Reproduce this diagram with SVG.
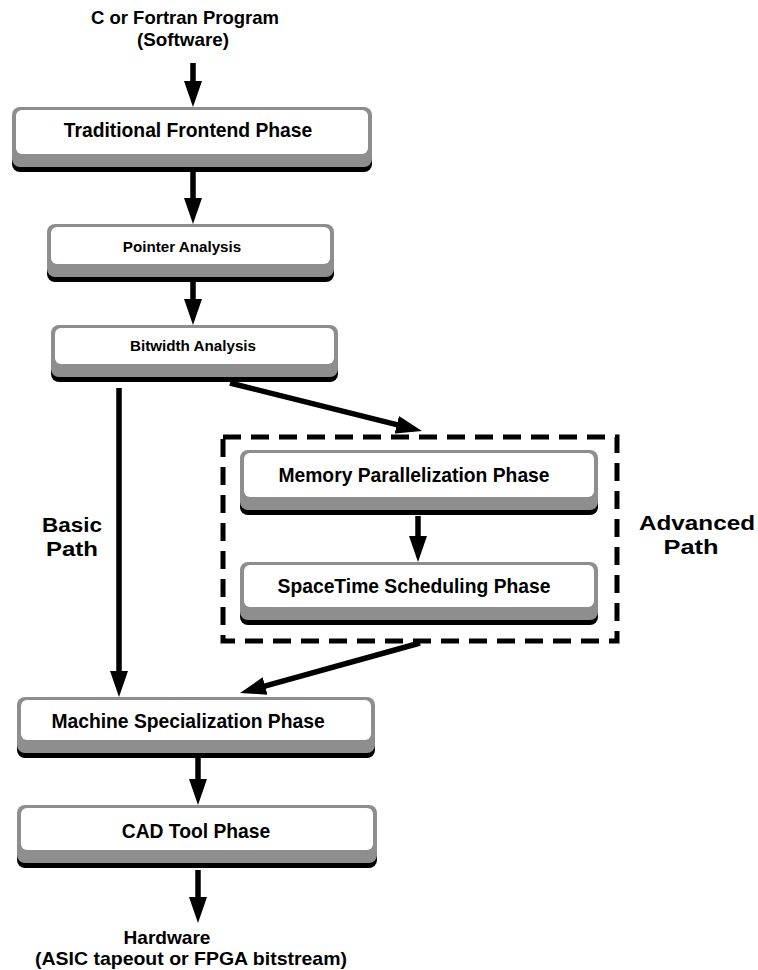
<svg xmlns="http://www.w3.org/2000/svg" width="758" height="970" viewBox="0 0 758 970">
  <style>
    .shadow { fill: #000; }
    .rim { fill: #8e8e8e; }
    .face { fill: #fff; }
    .lbl { font-family: "Liberation Sans", Arial, Helvetica, sans-serif; font-weight: bold; fill: #000; text-anchor: middle; }
    .big { font-size: 19.3px; }
    .io { font-size: 18.5px; }
    .small { font-size: 15.2px; }
    .path-lbl { font-size: 21px; }
    .wire { stroke: #000; stroke-width: 5.5; fill: none; }
    .group-box { fill: none; stroke: #000; stroke-width: 5; stroke-dasharray: 18 10; }
  </style>
  <defs>
    <marker id="head" markerUnits="userSpaceOnUse" viewBox="0 0 26 18" markerWidth="26" markerHeight="18" refX="6" refY="9" orient="auto">
      <path d="M0,0 L26,9 L0,18 z" fill="#000"/>
    </marker>
  </defs>
  <rect width="758" height="970" fill="#fff"/>

  <!-- input / output labels -->
  <g id="input">
    <text class="lbl io" x="185" y="24" textLength="188" lengthAdjust="spacingAndGlyphs">C or Fortran Program</text>
    <text class="lbl io" x="183" y="46" textLength="92" lengthAdjust="spacingAndGlyphs">(Software)</text>
  </g>

  <!-- compiler phases -->
  <g id="frontend">
    <rect class="shadow" x="12" y="140" width="360" height="32" rx="8"/>
    <rect class="rim" x="12" y="107" width="360" height="60" rx="8"/>
    <rect class="face" x="16" y="110" width="352" height="44" rx="6"/>
    <text class="lbl big" x="188" y="137">Traditional Frontend Phase</text>
  </g>

  <g id="pointer">
    <rect class="shadow" x="47" y="252" width="287" height="30" rx="8"/>
    <rect class="rim" x="47" y="224" width="287" height="53" rx="8"/>
    <rect class="face" x="51" y="227" width="279" height="37" rx="6"/>
    <text class="lbl small" x="182" y="252">Pointer Analysis</text>
  </g>

  <g id="bitwidth">
    <rect class="shadow" x="51" y="352" width="287" height="30" rx="8"/>
    <rect class="rim" x="51" y="325" width="287" height="52" rx="8"/>
    <rect class="face" x="55" y="328" width="279" height="36" rx="6"/>
    <text class="lbl small" x="193" y="351">Bitwidth Analysis</text>
  </g>

  <g id="advanced-group">
    <rect class="group-box" x="223" y="437" width="394" height="204"/>
    <text class="lbl path-lbl" x="697" y="530" textLength="116" lengthAdjust="spacingAndGlyphs">Advanced</text>
    <text class="lbl path-lbl" x="691" y="554" textLength="55" lengthAdjust="spacingAndGlyphs">Path</text>
  </g>

  <g id="memory">
    <rect class="shadow" x="240" y="483" width="358" height="32" rx="8"/>
    <rect class="rim" x="240" y="450" width="358" height="60" rx="8"/>
    <rect class="face" x="244" y="453" width="350" height="44" rx="6"/>
    <text class="lbl big" x="414" y="482">Memory Parallelization Phase</text>
  </g>

  <g id="spacetime">
    <rect class="shadow" x="240" y="594" width="358" height="31" rx="8"/>
    <rect class="rim" x="240" y="562" width="358" height="58" rx="8"/>
    <rect class="face" x="244" y="565" width="350" height="42" rx="6"/>
    <text class="lbl big" x="414" y="593">SpaceTime Scheduling Phase</text>
  </g>

  <g id="basic-label">
    <text class="lbl path-lbl" x="72" y="532" textLength="60" lengthAdjust="spacingAndGlyphs">Basic</text>
    <text class="lbl path-lbl" x="72" y="556" textLength="52" lengthAdjust="spacingAndGlyphs">Path</text>
  </g>

  <g id="machine">
    <rect class="shadow" x="17" y="728" width="358" height="30" rx="8"/>
    <rect class="rim" x="17" y="697" width="358" height="56" rx="8"/>
    <rect class="face" x="21" y="700" width="350" height="40" rx="6"/>
    <text class="lbl big" x="188" y="728">Machine Specialization Phase</text>
  </g>

  <g id="cad">
    <rect class="shadow" x="17" y="836" width="360" height="32" rx="8"/>
    <rect class="rim" x="17" y="805" width="360" height="58" rx="8"/>
    <rect class="face" x="21" y="808" width="352" height="42" rx="6"/>
    <text class="lbl big" x="196" y="838">CAD Tool Phase</text>
  </g>

  <g id="output">
    <text class="lbl io" x="167" y="944" textLength="87" lengthAdjust="spacingAndGlyphs">Hardware</text>
    <text class="lbl io" x="191" y="965" textLength="312" lengthAdjust="spacingAndGlyphs">(ASIC tapeout or FPGA bitstream)</text>
  </g>

  <!-- connectors -->
  <g id="connectors">
    <line class="wire" x1="193" y1="63" x2="193" y2="87" marker-end="url(#head)"/>
    <line class="wire" x1="193" y1="172" x2="193" y2="204" marker-end="url(#head)"/>
    <line class="wire" x1="193" y1="282" x2="193" y2="305" marker-end="url(#head)"/>
    <line class="wire" x1="119" y1="388" x2="119" y2="677" marker-end="url(#head)"/>
    <line class="wire" x1="230" y1="383" x2="402.6" y2="426.2" marker-end="url(#head)"/>
    <line class="wire" x1="418" y1="516" x2="418" y2="542" marker-end="url(#head)"/>
    <line class="wire" x1="420" y1="643" x2="259.3" y2="687.6" marker-end="url(#head)"/>
    <line class="wire" x1="198" y1="758" x2="198" y2="785" marker-end="url(#head)"/>
    <line class="wire" x1="198" y1="870" x2="198" y2="903" marker-end="url(#head)"/>
  </g>
</svg>
